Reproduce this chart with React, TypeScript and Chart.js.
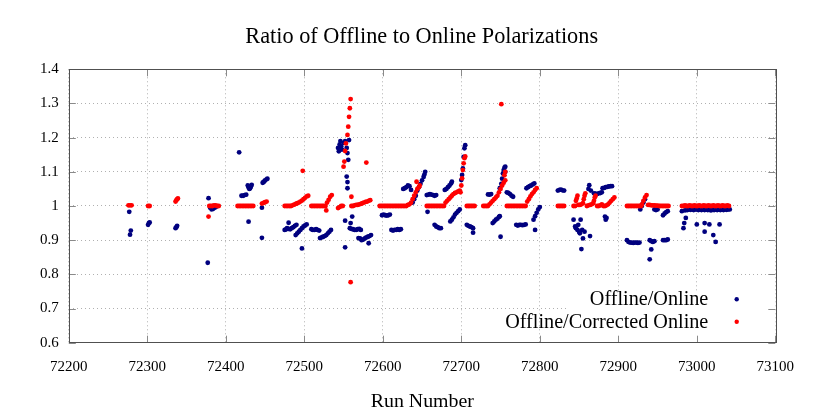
import React, { useEffect, useRef } from "react";
import { Chart, registerables } from "chart.js";

Chart.register(...registerables);

const TITLE = "Ratio of Offline to Online Polarizations";
const X_TITLE = "Run Number";
const SERIES_NAMES = ["Offline/Online", "Offline/Corrected Online"];
const X_TICKS = [72200, 72300, 72400, 72500, 72600, 72700, 72800, 72900, 73000, 73100];
const Y_TICKS = [0.6, 0.7, 0.8, 0.9, 1.0, 1.1, 1.2, 1.3, 1.4];

// [run number, ratio]
const offlineOnline: [number, number][] = [
  [72277, 0.983], [72278, 0.916], [72279, 0.928],
  [72301, 0.945], [72302, 0.95], [72303, 0.952],
  [72336, 0.935], [72337, 0.938], [72338, 0.942],
  [72377, 0.834], [72378, 1.023], [72380, 0.995], [72382, 0.99], [72384, 0.992], [72386, 0.995], [72388, 0.998],
  [72417, 1.157], [72420, 1.03], [72422, 1.03], [72424, 1.032], [72426, 1.033], [72428, 1.06], [72429, 1.054],
  [72430, 1.05], [72431, 1.052], [72432, 1.057], [72433, 1.062], [72429, 0.954],
  [72446, 0.907], [72446, 0.995], [72447, 1.068], [72448, 1.07], [72449, 1.072], [72450, 1.075], [72452, 1.078], [72453, 1.08],
  [72475, 0.93], [72477, 0.932], [72478, 0.935], [72480, 0.951], [72480, 0.933], [72482, 0.932], [72484, 0.935],
  [72486, 0.938], [72488, 0.942], [72490, 0.945], [72489, 0.915], [72491, 0.92], [72493, 0.925], [72495, 0.93],
  [72497, 0.876], [72497, 0.935], [72499, 0.94], [72501, 0.943], [72503, 0.946],
  [72509, 0.932], [72511, 0.93], [72513, 0.93], [72515, 0.932], [72517, 0.93], [72519, 0.928], [72520, 0.906],
  [72522, 0.908], [72524, 0.91], [72526, 0.912], [72528, 0.915], [72530, 0.92], [72532, 0.925], [72534, 0.93],
  [72543, 1.17], [72544, 1.16], [72545, 1.18], [72546, 1.19], [72547, 1.175], [72548, 1.165], [72550, 1.185],
  [72552, 1.19], [72554, 1.17], [72555, 1.155], [72556, 1.135], [72557, 1.193], [72554, 1.086], [72555, 1.07],
  [72555, 1.052], [72552, 0.957], [72552, 0.879], [72559, 0.95], [72561, 0.969],
  [72558, 0.935], [72560, 0.933], [72562, 0.932], [72564, 0.93], [72566, 0.93], [72568, 0.932], [72570, 0.933],
  [72572, 0.93], [72569, 0.906], [72571, 0.905], [72573, 0.9], [72575, 0.902], [72577, 0.905], [72579, 0.908],
  [72581, 0.91], [72583, 0.912], [72585, 0.915], [72582, 0.891],
  [72599, 0.973], [72601, 0.975], [72603, 0.973], [72605, 0.972], [72607, 0.973], [72609, 0.975],
  [72611, 0.93], [72613, 0.928], [72615, 0.93], [72617, 0.93], [72619, 0.932], [72621, 0.93], [72623, 0.932],
  [72626, 1.05], [72628, 1.052], [72630, 1.055], [72632, 1.06], [72634, 1.058], [72636, 1.047],
  [72638, 1.01], [72640, 1.02], [72642, 1.03], [72644, 1.045], [72646, 1.055], [72648, 1.065], [72650, 1.075],
  [72652, 1.085], [72653, 1.092], [72654, 1.1],
  [72656, 1.032], [72658, 1.033], [72660, 1.035], [72662, 1.033], [72664, 1.032], [72666, 1.03], [72668, 1.032], [72657, 0.983],
  [72666, 0.945], [72668, 0.94], [72670, 0.938], [72672, 0.935], [72674, 0.935],
  [72679, 1.047], [72681, 1.05], [72683, 1.055], [72685, 1.06], [72687, 1.066], [72688, 1.071],
  [72686, 0.955], [72688, 0.96], [72690, 0.967], [72692, 0.975], [72694, 0.98], [72696, 0.985], [72698, 0.99],
  [72700, 1.076], [72701, 1.091], [72702, 1.11], [72703, 1.144], [72704, 1.169], [72705, 1.178],
  [72707, 0.945], [72709, 0.942], [72711, 0.94], [72713, 0.938], [72715, 0.935], [72715, 0.922],
  [72734, 1.034], [72736, 1.033], [72738, 1.035],
  [72740, 0.95], [72742, 0.955], [72744, 0.96], [72746, 0.963], [72748, 0.968], [72749, 0.97], [72750, 0.91],
  [72749, 1.052], [72751, 1.065], [72752, 1.08], [72753, 1.095], [72754, 1.105], [72755, 1.112], [72756, 1.115], [72756, 1.1],
  [72758, 1.04], [72760, 1.038], [72762, 1.035], [72764, 1.03], [72766, 1.027],
  [72770, 0.945], [72772, 0.943], [72774, 0.945], [72776, 0.945], [72778, 0.944], [72780, 0.945], [72782, 0.946],
  [72783, 1.052], [72785, 1.055], [72787, 1.058], [72789, 1.06], [72791, 1.063], [72793, 1.066],
  [72792, 0.96], [72794, 0.97], [72796, 0.98], [72798, 0.99], [72800, 0.997], [72794, 0.93],
  [72823, 1.045], [72825, 1.047], [72827, 1.048], [72829, 1.046], [72831, 1.045],
  [72843, 0.96], [72845, 0.94], [72846, 0.935], [72848, 0.93], [72849, 0.945], [72850, 0.925], [72851, 0.92],
  [72852, 0.96], [72853, 0.874], [72855, 0.905], [72854, 0.93], [72857, 0.925], [72864, 0.912],
  [72863, 1.061], [72862, 1.05], [72865, 1.045],
  [72869, 1.037], [72871, 1.036], [72873, 1.035], [72875, 1.037], [72877, 1.038], [72879, 1.04],
  [72880, 1.052], [72882, 1.053], [72884, 1.055], [72886, 1.056], [72888, 1.057], [72890, 1.058], [72892, 1.058],
  [72883, 0.969], [72884, 0.96], [72885, 0.965],
  [72911, 0.9], [72913, 0.895], [72915, 0.893], [72917, 0.893], [72919, 0.892], [72921, 0.893], [72923, 0.893],
  [72925, 0.892], [72927, 0.893],
  [72928, 0.99], [72930, 1.0], [72932, 1.01], [72934, 1.02],
  [72940, 0.9], [72942, 0.897], [72944, 0.895], [72946, 0.897], [72942, 0.873], [72940, 0.844],
  [72946, 0.99], [72948, 0.988], [72950, 0.99],
  [72957, 0.973], [72959, 0.978], [72961, 0.982], [72963, 0.985],
  [72957, 0.9], [72959, 0.9], [72961, 0.9], [72963, 0.902],
  [72981, 0.985], [72983, 0.935], [72984, 0.95], [72986, 0.965], [72985, 0.987], [72988, 0.988], [72990, 0.99],
  [72992, 0.989], [72994, 0.99], [72996, 0.988], [72998, 0.99], [73000, 0.946], [73000, 0.99], [73002, 0.988],
  [73004, 0.99], [73006, 0.988], [73008, 0.99], [73010, 0.95], [73010, 0.925], [73010, 0.988], [73012, 0.99],
  [73014, 0.988], [73016, 0.946], [73016, 0.99], [73018, 0.987], [73020, 0.99], [73021, 0.915], [73022, 0.988],
  [73024, 0.895], [73024, 0.99], [73026, 0.988], [73028, 0.99], [73029, 0.946], [73030, 0.988], [73032, 0.99],
  [73034, 0.988], [73036, 0.99], [73038, 0.989], [73040, 0.99], [73042, 0.99],
];

// [run number, ratio]
const offlineCorrected: [number, number][] = [
  [72276, 1.002], [72278, 1.002], [72280, 1.002],
  [72301, 1.0], [72303, 1.0],
  [72336, 1.013], [72337, 1.017], [72338, 1.02], [72339, 1.022],
  [72378, 0.969], [72379, 1.0], [72381, 1.0], [72383, 1.0], [72385, 1.002], [72387, 1.002], [72389, 1.0], [72391, 1.0],
  [72415, 1.0], [72417, 1.0], [72419, 1.0], [72421, 1.0], [72423, 1.0], [72425, 1.0], [72427, 1.0], [72429, 1.0],
  [72431, 1.0], [72433, 1.0], [72435, 1.0],
  [72446, 1.007], [72448, 1.009], [72450, 1.011], [72452, 1.013],
  [72475, 1.0], [72477, 1.0], [72479, 1.0], [72481, 1.0], [72483, 1.0], [72485, 1.002], [72487, 1.004],
  [72489, 1.006], [72491, 1.008], [72493, 1.01], [72495, 1.013], [72497, 1.016], [72499, 1.02], [72501, 1.024],
  [72503, 1.028], [72505, 1.03], [72498, 1.103],
  [72509, 1.0], [72511, 1.0], [72513, 1.0], [72515, 1.0], [72517, 1.0], [72519, 1.0], [72521, 1.0], [72523, 1.0],
  [72525, 1.0], [72527, 1.0], [72528, 0.987], [72529, 1.01], [72531, 1.018], [72533, 1.027], [72535, 1.032],
  [72543, 0.994], [72545, 0.997], [72547, 1.0], [72549, 1.0],
  [72550, 1.115], [72551, 1.13], [72552, 1.161], [72553, 1.183], [72555, 1.208], [72556, 1.232], [72557, 1.261],
  [72558, 1.286], [72559, 1.313], [72559, 0.777], [72560, 1.027],
  [72560, 1.0], [72562, 1.0], [72564, 1.002], [72566, 1.003], [72568, 1.003], [72570, 1.005], [72572, 1.006],
  [72574, 1.008], [72576, 1.01], [72578, 1.012], [72580, 1.013], [72582, 1.015], [72584, 1.017], [72579, 1.127],
  [72596, 1.0], [72598, 1.0], [72600, 1.0], [72602, 1.0], [72604, 1.0], [72606, 1.0], [72608, 1.0], [72610, 1.0],
  [72612, 1.0], [72614, 1.0], [72616, 1.0], [72618, 1.0], [72620, 1.0], [72622, 1.0], [72624, 1.0], [72626, 1.0],
  [72628, 1.0], [72630, 1.0],
  [72632, 1.003], [72634, 1.005], [72636, 1.01], [72638, 1.02], [72640, 1.03], [72642, 1.04], [72643, 1.071],
  [72644, 1.05], [72646, 1.055], [72647, 1.06],
  [72656, 1.0], [72658, 1.0], [72660, 1.0], [72662, 1.0], [72664, 1.0], [72666, 1.0], [72668, 1.0], [72670, 1.0],
  [72672, 1.0], [72674, 1.0], [72676, 1.0], [72678, 1.0],
  [72680, 1.01], [72682, 1.015], [72684, 1.02], [72686, 1.025], [72688, 1.03], [72690, 1.035], [72692, 1.038],
  [72694, 1.04], [72696, 1.043], [72698, 1.045],
  [72699, 1.04], [72700, 1.06], [72701, 1.081], [72702, 1.105], [72703, 1.125], [72704, 1.14], [72705, 1.145],
  [72707, 1.0], [72709, 1.0], [72711, 1.0], [72713, 1.0], [72715, 1.0], [72717, 1.0],
  [72728, 1.0], [72730, 1.0], [72732, 1.0], [72734, 1.0],
  [72736, 1.005], [72738, 1.01], [72740, 1.015], [72742, 1.02], [72744, 1.025], [72746, 1.03], [72748, 1.04],
  [72750, 1.05], [72752, 1.06], [72754, 1.068], [72756, 1.075], [72755, 1.09], [72756, 1.1], [72751, 1.298],
  [72758, 1.0], [72760, 1.0], [72762, 1.0], [72764, 1.0], [72766, 1.0], [72768, 1.0], [72770, 1.0], [72772, 1.0],
  [72774, 1.0], [72776, 1.0], [72778, 1.0], [72780, 1.0], [72782, 1.0],
  [72784, 1.013], [72786, 1.02], [72788, 1.028], [72790, 1.035], [72792, 1.04], [72794, 1.047], [72796, 1.052],
  [72823, 1.0], [72825, 1.0], [72827, 1.0], [72829, 1.0], [72831, 1.0],
  [72843, 1.0], [72845, 1.0], [72846, 1.015], [72847, 1.022], [72848, 1.03], [72849, 1.003], [72851, 1.003],
  [72853, 1.005], [72855, 1.008], [72856, 1.02], [72857, 1.03], [72858, 1.037], [72860, 1.0], [72862, 1.002],
  [72864, 1.003], [72866, 1.005], [72868, 1.008], [72869, 1.015], [72870, 1.025], [72871, 1.03], [72873, 1.0],
  [72875, 1.0], [72877, 1.002], [72879, 1.005], [72881, 1.0], [72883, 1.0], [72885, 1.002], [72887, 1.005],
  [72889, 1.01], [72891, 1.015], [72893, 1.02], [72895, 1.025],
  [72911, 1.0], [72913, 1.0], [72915, 1.0], [72917, 1.0], [72919, 1.0], [72921, 1.0], [72923, 1.0], [72925, 1.0],
  [72927, 1.0], [72929, 1.0], [72930, 1.005], [72932, 1.015], [72934, 1.025], [72936, 1.032],
  [72938, 1.003], [72940, 1.003], [72942, 1.002], [72944, 1.002], [72946, 1.002], [72948, 1.001], [72950, 1.001],
  [72952, 1.0], [72954, 1.0], [72956, 1.0], [72958, 1.0], [72960, 1.0], [72962, 1.0], [72964, 1.0],
  [72981, 1.0], [72983, 1.0], [72985, 1.002], [72987, 1.0], [72989, 1.0], [72991, 1.002], [72993, 1.0], [72995, 1.0],
  [72997, 1.002], [72999, 1.0], [73001, 1.0], [73003, 1.002], [73005, 1.0], [73007, 1.0], [73009, 1.002], [73011, 1.0],
  [73013, 1.0], [73015, 1.002], [73017, 1.0], [73019, 1.0], [73021, 1.002], [73023, 1.0], [73025, 1.0], [73027, 1.002],
  [73029, 1.0], [73031, 1.0], [73033, 1.002], [73035, 1.0], [73037, 1.0], [73039, 1.002], [73041, 1.0],
];

const NAVY = "#00007f";
const RED = "#ff0000";
const FONT = "'Liberation Serif', 'DejaVu Serif', serif";

// layout (pixels)
const PLOT_LEFT = 68.8;
const PLOT_RIGHT_PAD = 830 - 775.3;
const PLOT_TOP = 69.3;
const PLOT_BOTTOM_PAD = 415 - 342.7;

function fittedSize(ctx: CanvasRenderingContext2D, text: string, target: number) {
  ctx.font = `20px ${FONT}`;
  const w = ctx.measureText(text).width;
  return (20 * target) / w;
}

const framePlugin = {
  id: "frame",
  beforeDatasetsDraw(chart: any) {
    const { ctx, chartArea } = chart;
    const x0 = chart.scales.x.getPixelForValue(72836);
    const y0 = chart.scales.y.getPixelForValue(0.747);
    ctx.save();
    ctx.fillStyle = "#ffffff";
    ctx.fillRect(x0, y0, chartArea.right - x0, chartArea.bottom - y0);
    ctx.restore();
  },
  afterDraw(chart: any) {
    const { ctx, chartArea } = chart;
    const { left, right, top, bottom } = chartArea;
    const xs = chart.scales.x;
    const ys = chart.scales.y;
    ctx.save();
    // mirrored inward ticks
    ctx.strokeStyle = "#8a8a8a";
    ctx.lineWidth = 1;
    const TL = 7;
    ctx.beginPath();
    X_TICKS.forEach((v) => {
      const px = Math.round(xs.getPixelForValue(v)) + 0.5;
      ctx.moveTo(px, bottom);
      ctx.lineTo(px, bottom - TL);
      ctx.moveTo(px, top);
      ctx.lineTo(px, top + TL);
    });
    Y_TICKS.forEach((v) => {
      const py = Math.round(ys.getPixelForValue(v)) + 0.5;
      ctx.moveTo(left, py);
      ctx.lineTo(left + TL, py);
      ctx.moveTo(right, py);
      ctx.lineTo(right - TL, py);
    });
    ctx.stroke();
    // frame
    ctx.strokeStyle = "#505050";
    ctx.lineWidth = 1;
    ctx.strokeRect(Math.round(left) + 0.5, Math.round(top) + 0.5, Math.round(right - left), Math.round(bottom - top));

    ctx.fillStyle = "#000000";
    // title
    const ts = fittedSize(ctx, TITLE, 353);
    ctx.font = `${ts}px ${FONT}`;
    ctx.textAlign = "center";
    ctx.textBaseline = "alphabetic";
    ctx.fillText(TITLE, 421.7, 43.3);
    // x axis title
    const xsz = fittedSize(ctx, X_TITLE, 103.3);
    ctx.font = `${xsz}px ${FONT}`;
    ctx.fillText(X_TITLE, 422.3, 406.7);
    // legend
    const ls = fittedSize(ctx, SERIES_NAMES[1], 203.3);
    ctx.font = `${ls}px ${FONT}`;
    ctx.textAlign = "right";
    ctx.fillText(SERIES_NAMES[0], 708.3, 305);
    ctx.fillText(SERIES_NAMES[1], 708.3, 328.3);
    ctx.fillStyle = NAVY;
    ctx.beginPath();
    ctx.arc(736.7, 299.3, 2.2, 0, Math.PI * 2);
    ctx.fill();
    ctx.fillStyle = RED;
    ctx.beginPath();
    ctx.arc(736.7, 321.7, 2.2, 0, Math.PI * 2);
    ctx.fill();
    ctx.restore();
  },
};

export default function App() {
  const ref = useRef<HTMLCanvasElement | null>(null);

  useEffect(() => {
    if (!ref.current) return;
    const chart = new Chart(ref.current, {
      type: "scatter",
      data: {
        datasets: [
          {
            label: SERIES_NAMES[0],
            data: offlineOnline.map(([x, y]) => ({ x, y })),
            backgroundColor: NAVY,
            borderColor: NAVY,
            pointRadius: 2.4,
            pointBorderWidth: 0,
            order: 2,
          },
          {
            label: SERIES_NAMES[1],
            data: offlineCorrected.map(([x, y]) => ({ x, y })),
            backgroundColor: RED,
            borderColor: RED,
            pointRadius: 2.4,
            pointBorderWidth: 0,
            order: 1,
          },
        ],
      },
      options: {
        animation: false,
        responsive: false,
        devicePixelRatio: 1,
        layout: { padding: { left: 0, right: PLOT_RIGHT_PAD, top: PLOT_TOP, bottom: 0 } },
        plugins: {
          legend: { display: false },
          title: { display: false },
          tooltip: { enabled: false },
        },
        scales: {
          x: {
            type: "linear",
            min: 72200,
            max: 73100,
            afterBuildTicks: (s: any) => {
              s.ticks = X_TICKS.map((v) => ({ value: v }));
            },
            afterFit: (s: any) => {
              s.height = PLOT_BOTTOM_PAD;
            },
            ticks: {
              color: "#000",
              font: { family: FONT, size: 15 },
              padding: 15,
              maxRotation: 0,
              callback: (v: any) => String(v),
            },
            grid: { color: "#b0b0b0", lineWidth: 1, drawTicks: false },
            border: { display: false, dash: [1, 3] },
          },
          y: {
            type: "linear",
            min: 0.6,
            max: 1.4,
            afterBuildTicks: (s: any) => {
              s.ticks = Y_TICKS.map((v) => ({ value: v }));
            },
            afterFit: (s: any) => {
              s.width = PLOT_LEFT;
            },
            ticks: {
              color: "#000",
              font: { family: FONT, size: 15 },
              padding: 10,
              callback: (v: any) => (Math.abs(v - 1) < 1e-9 ? "1" : Number(v).toFixed(1)),
            },
            grid: { color: "#b0b0b0", lineWidth: 1, drawTicks: false },
            border: { display: false, dash: [1, 3] },
          },
        },
      },
      plugins: [framePlugin],
    });
    return () => chart.destroy();
  }, []);

  return (
    <div style={{ position: "absolute", left: 0, top: 0, width: 830, height: 415, background: "#fff" }}>
      <canvas ref={ref} width={830} height={415} style={{ display: "block" }} />
    </div>
  );
}
